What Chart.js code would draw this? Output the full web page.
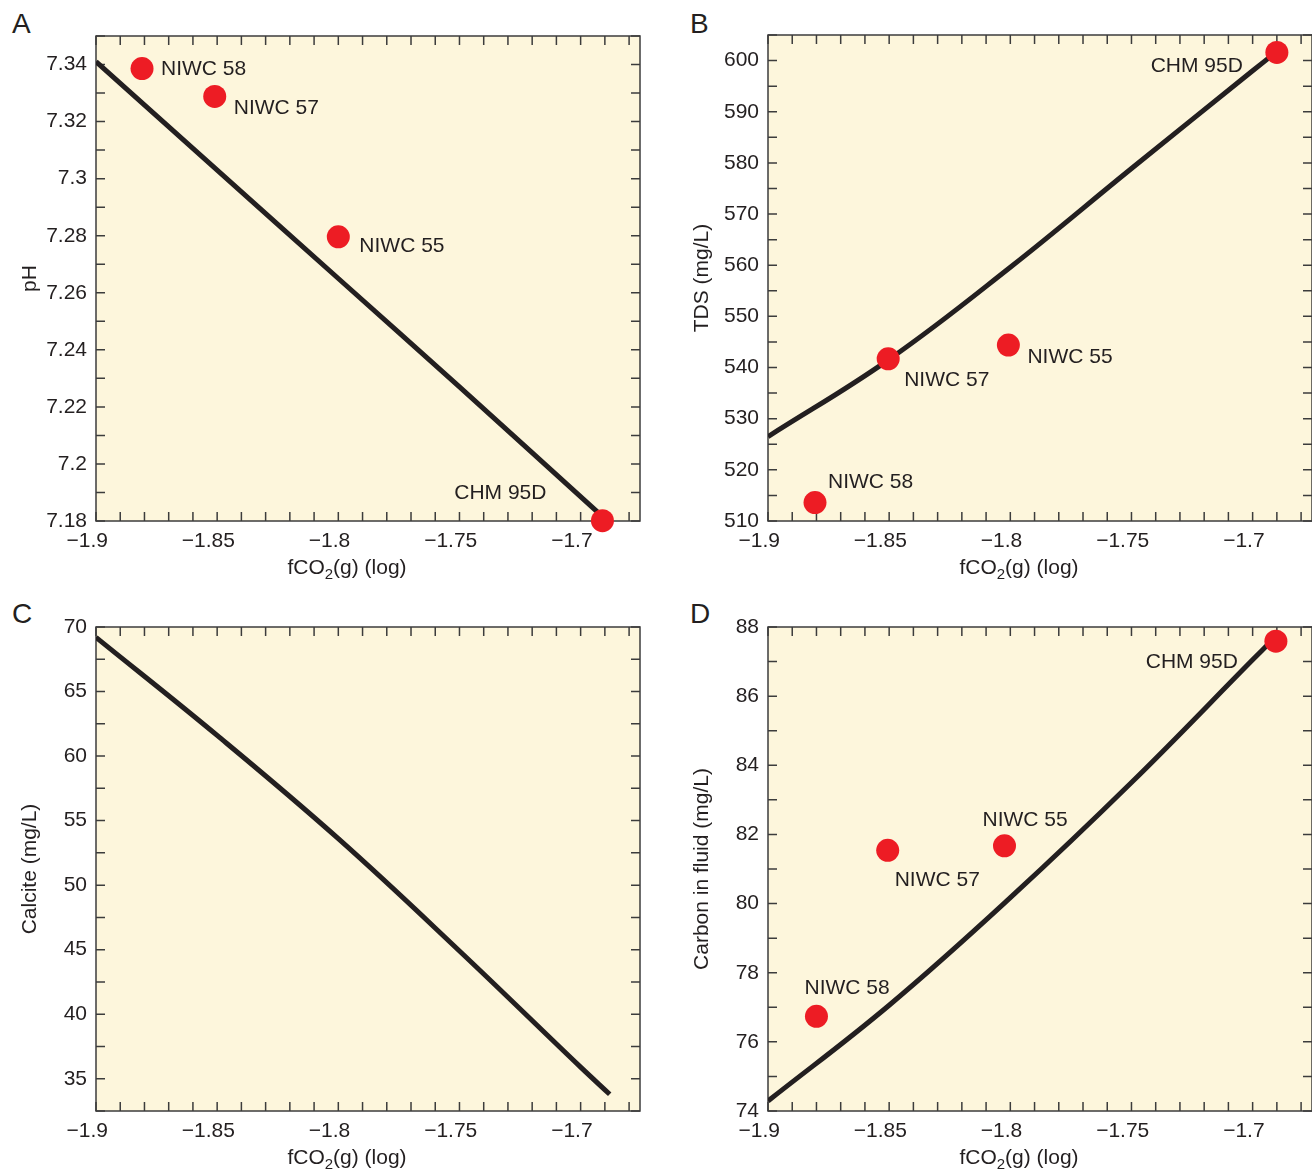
<!DOCTYPE html>
<html>
<head>
<meta charset="utf-8">
<script src="https://cdn.jsdelivr.net/npm/chart.js@4.4.0/dist/chart.umd.min.js"></script>
<style>
  body { margin: 0; background: #fff; width: 1312px; height: 1171px; position: relative; overflow: hidden;
         font-family: "Liberation Sans", Arial, sans-serif; }
  .panel { position: absolute; }
  .letter { position: absolute; font-size: 28px; line-height: 28px; color: #231f20; }
</style>
</head>
<body>
<div class="letter" style="left:12px;top:10px">A</div>
<div class="letter" style="left:690px;top:10px">B</div>
<div class="letter" style="left:12px;top:600px">C</div>
<div class="letter" style="left:690px;top:600px">D</div>

<div class="panel" style="left:0;top:0"><canvas id="chartA" width="656" height="590"></canvas></div>
<div class="panel" style="left:672px;top:0"><canvas id="chartB" width="656" height="590"></canvas></div>
<div class="panel" style="left:0;top:590px"><canvas id="chartC" width="656" height="581"></canvas></div>
<div class="panel" style="left:672px;top:590px"><canvas id="chartD" width="656" height="581"></canvas></div>

<script>
// samples
var sampleNames = ['NIWC 58', 'NIWC 57', 'NIWC 55', 'CHM 95D'];

var phSampleX = [-1.881, -1.851, -1.800, -1.691];
var phSampleY = [7.3386, 7.3288, 7.2796, 7.1801];
var tdsSampleX = [-1.8806, -1.8504, -1.8008, -1.690];
var tdsSampleY = [513.6, 541.7, 544.4, 601.6];
var carbonSampleX = [-1.880, -1.8506, -1.8024, -1.6904];
var carbonSampleY = [76.74, 81.54, 81.67, 87.59];

// model curves
var phModelX = [-1.9, -1.85, -1.8, -1.75, -1.6915];
var phModelY = [7.341, 7.303, 7.265, 7.227, 7.182];
var tdsModelX = [-1.9, -1.85, -1.8, -1.75, -1.7, -1.6905];
var tdsModelY = [526.5, 541.6, 559.6, 578.9, 598.0, 601.6];
var calciteModelX = [-1.9, -1.85, -1.8, -1.75, -1.7, -1.688];
var calciteModelY = [69.2, 61.6, 53.6, 44.9, 35.9, 33.8];
var carbonModelX = [-1.9, -1.85, -1.8, -1.75, -1.7, -1.6925];
var carbonModelY = [74.29, 77.06, 80.17, 83.5, 87.05, 87.58];

// tick labels
var xTicks = [-1.9, -1.85, -1.8, -1.75, -1.7];
var phTicks = [7.18, 7.2, 7.22, 7.24, 7.26, 7.28, 7.3, 7.32, 7.34];
var tdsTicks = [510, 520, 530, 540, 550, 560, 570, 580, 590, 600];
var calciteTicks = [35, 40, 45, 50, 55, 60, 65, 70];
var carbonTicks = [74, 76, 78, 80, 82, 84, 86, 88];

var INK = '#231f20';
var FRAME = '#3c3c3c';
var FILL = '#fdf6dc';
var RED = '#ed1c24';

function toXY(xs, ys) {
  return xs.map(function (x, i) { return { x: x, y: ys[i] } })
}

// yellow plot area, frame and inward ticks on all four sides
var framePlugin = {
  id: 'frame',
  beforeDatasetsDraw: function (chart, args, opts) {
    var ctx = chart.ctx, a = chart.chartArea
    var xs = chart.scales.x, ys = chart.scales.y
    ctx.save()
    ctx.fillStyle = FILL
    ctx.fillRect(a.left, a.top, a.right - a.left, a.bottom - a.top)
    ctx.strokeStyle = FRAME
    ctx.lineWidth = 1.5
    ctx.beginPath()
    var len = 9, k, p
    for (k = Math.ceil(xs.min / opts.xStep - 1e-6); k * opts.xStep <= xs.max + 1e-9; k++) {
      p = xs.getPixelForValue(k * opts.xStep)
      ctx.moveTo(p, a.bottom); ctx.lineTo(p, a.bottom - len)
      ctx.moveTo(p, a.top); ctx.lineTo(p, a.top + len)
    }
    for (k = Math.ceil(ys.min / opts.yStep - 1e-6); k * opts.yStep <= ys.max + 1e-9; k++) {
      p = ys.getPixelForValue(k * opts.yStep)
      ctx.moveTo(a.left, p); ctx.lineTo(a.left + len, p)
      ctx.moveTo(a.right, p); ctx.lineTo(a.right - len, p)
    }
    ctx.stroke()
    ctx.strokeRect(a.left, a.top, a.right - a.left, a.bottom - a.top)
    ctx.restore()
  }
}

// sample names beside the red dots, and the x title with its subscript
var notePlugin = {
  id: 'notes',
  afterDatasetsDraw: function (chart, args, opts) {
    var ctx = chart.ctx, a = chart.chartArea
    ctx.save()
    ctx.fillStyle = INK
    ctx.font = '21px "Liberation Sans", Arial, sans-serif'
    ctx.textBaseline = 'middle'
    if (opts.labels) {
      var meta = chart.getDatasetMeta(1)
      opts.labels.forEach(function (l, i) {
        var el = meta.data[i]
        ctx.textAlign = l.align
        ctx.fillText(sampleNames[i], el.x + l.dx, el.y + l.dy)
      })
    }
    // fCO2(g) (log)
    var big = '21px "Liberation Sans", Arial, sans-serif'
    var small = '15px "Liberation Sans", Arial, sans-serif'
    ctx.font = big
    var w1 = ctx.measureText('fCO').width, w3 = ctx.measureText('(g) (log)').width
    ctx.font = small
    var w2 = ctx.measureText('2').width
    var x0 = (a.left + a.right) / 2 - 21 - (w1 + w2 + w3) / 2
    var y0 = a.bottom + 47
    ctx.textAlign = 'left'
    ctx.font = big
    ctx.fillText('fCO', x0, y0)
    ctx.font = small
    ctx.fillText('2', x0 + w1, y0 + 7)
    ctx.font = big
    ctx.fillText('(g) (log)', x0 + w1 + w2, y0)
    ctx.restore()
  }
}

function makePanel(id, cfg) {
  var datasets = [{
    data: toXY(cfg.modelX, cfg.modelY),
    showLine: true,
    borderColor: INK,
    borderWidth: 5,
    pointRadius: 0,
    tension: 0.4,
    order: 1
  }]
  if (cfg.sampleX) {
    datasets.push({
      data: toXY(cfg.sampleX, cfg.sampleY),
      pointRadius: 11.5,
      pointBackgroundColor: RED,
      pointBorderWidth: 0,
      clip: false,
      order: 0
    })
  }
  var tickFont = { family: '"Liberation Sans", Arial, sans-serif', size: 21 }
  return new Chart(document.getElementById(id), {
    type: 'scatter',
    data: { datasets: datasets },
    plugins: [framePlugin, notePlugin],
    options: {
      responsive: false,
      animation: false,
      events: [],
      layout: { padding: { top: cfg.top, right: 16, left: 0, bottom: 0 } },
      scales: {
        x: {
          type: 'linear', min: -1.9, max: -1.6755,
          grid: { display: false, drawTicks: false },
          border: { display: false },
          afterBuildTicks: function (s) { s.ticks = xTicks.map(function (v) { return { value: v } }) },
          afterFit: function (s) { s.height = cfg.xHeight },
          ticks: {
            color: INK, font: tickFont, padding: 8, maxRotation: 0, autoSkip: false,
            callback: function (v) { return '\u2212' + Math.abs(v) + '   ' }
          }
        },
        y: {
          type: 'linear', min: cfg.yMin, max: cfg.yMax,
          grid: { display: false, drawTicks: false },
          border: { display: false },
          afterBuildTicks: function (s) { s.ticks = cfg.yTicks.map(function (v) { return { value: v } }) },
          afterFit: function (s) { s.width = 96 },
          ticks: {
            color: INK, font: tickFont, padding: 9, autoSkip: false,
            callback: function (v) { return String(v) }
          },
          title: {
            display: true, text: cfg.yTitle, color: INK,
            font: { family: '"Liberation Sans", Arial, sans-serif', size: 21, lineHeight: 1.2 },
            padding: { top: 18, bottom: 0 }
          }
        }
      },
      plugins: {
        legend: { display: false },
        tooltip: { enabled: false },
        frame: { xStep: 0.01, yStep: cfg.yStep },
        notes: { labels: cfg.labels }
      }
    }
  })
}

makePanel('chartA', {
  modelX: phModelX, modelY: phModelY, sampleX: phSampleX, sampleY: phSampleY,
  yMin: 7.18, yMax: 7.35, yTicks: phTicks, yStep: 0.01, yTitle: 'pH',
  top: 36, xHeight: 69,
  labels: [
    { dx: 19, dy: 1, align: 'left' },
    { dx: 19, dy: 12, align: 'left' },
    { dx: 21, dy: 9, align: 'left' },
    { dx: -56, dy: -28, align: 'right' }
  ]
})

makePanel('chartB', {
  modelX: tdsModelX, modelY: tdsModelY, sampleX: tdsSampleX, sampleY: tdsSampleY,
  yMin: 510, yMax: 605, yTicks: tdsTicks, yStep: 5, yTitle: 'TDS (mg/L)',
  top: 35, xHeight: 69,
  labels: [
    { dx: 13, dy: -20, align: 'left' },
    { dx: 16, dy: 21, align: 'left' },
    { dx: 19, dy: 12, align: 'left' },
    { dx: -34, dy: 14, align: 'right' }
  ]
})

makePanel('chartC', {
  modelX: calciteModelX, modelY: calciteModelY,
  yMin: 32.5, yMax: 70, yTicks: calciteTicks, yStep: 2.5, yTitle: 'Calcite (mg/L)',
  top: 37, xHeight: 60
})

makePanel('chartD', {
  modelX: carbonModelX, modelY: carbonModelY, sampleX: carbonSampleX, sampleY: carbonSampleY,
  yMin: 74, yMax: 88, yTicks: carbonTicks, yStep: 1, yTitle: 'Carbon in fluid (mg/L)',
  top: 37, xHeight: 60,
  labels: [
    { dx: -12, dy: -28, align: 'left' },
    { dx: 7, dy: 30, align: 'left' },
    { dx: -22, dy: -26, align: 'left' },
    { dx: -38, dy: 21, align: 'right' }
  ]
})
</script>
</body>
</html>
